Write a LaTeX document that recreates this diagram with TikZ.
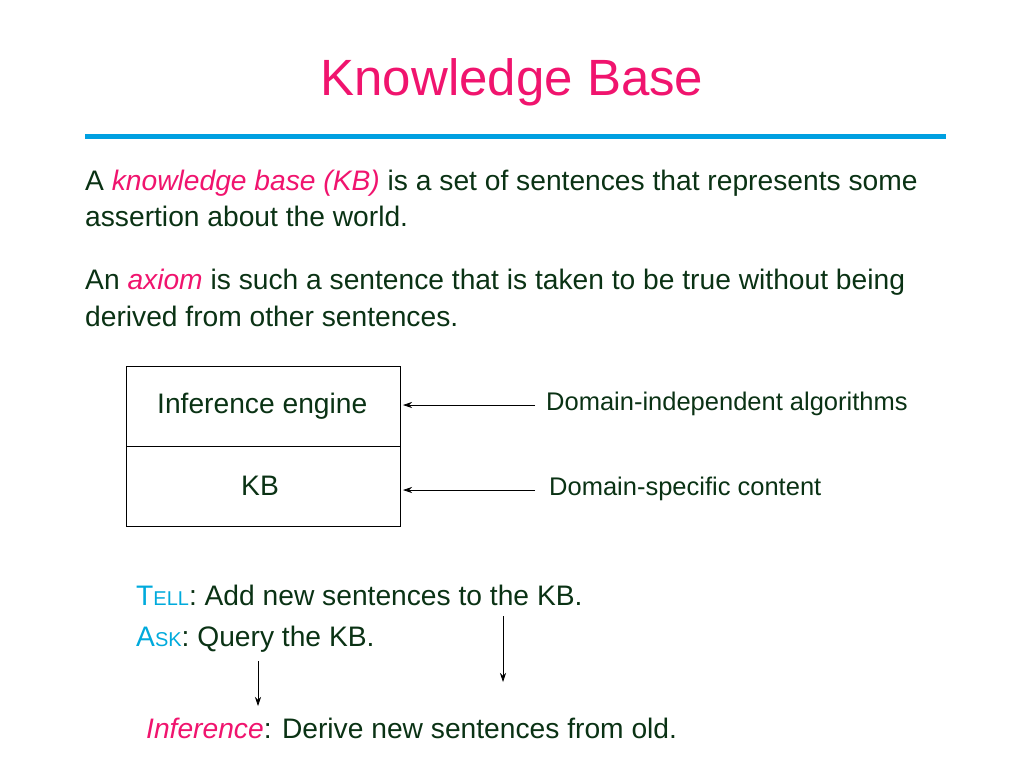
\documentclass[tikz,border=0pt]{standalone}
\usepackage{fontspec}
\setmainfont{Liberation Sans}
\usetikzlibrary{arrows.meta}
\definecolor{tpink}{RGB}{240,20,110}
\definecolor{tblue}{RGB}{0,160,225}
\definecolor{tgreen}{RGB}{10,50,20}
\definecolor{tcyan}{RGB}{0,170,220}
\begin{document}
\begin{tikzpicture}[x=1pt,y=-1pt,
  txt/.style={anchor=west,inner sep=0pt,text=tgreen,font=\fontsize{28.2}{32}\selectfont},
  lab/.style={anchor=west,inner sep=0pt,text=tgreen,font=\fontsize{25.5}{29}\selectfont},
  arr/.style={-{Stealth[length=9pt,width=6pt]},line width=0.7pt}]
\useasboundingbox (0,0) rectangle (1024,768);
\node[inner sep=0pt,text=tpink,font=\fontsize{51}{58}\selectfont] (title) at (512,82) {Knowledge Base};
\draw[tblue,line width=5pt] (85,136) -- (946,136);
\node[txt] (p1) at (85,183) {A \textcolor{tpink}{\itshape knowledge base (KB)} is a set of sentences that represents some};
\node[txt] (p2) at (85,216) {assertion about the world.};
\node[txt] (p3) at (85,282) {An \textcolor{tpink}{\itshape axiom} is such a sentence that is taken to be true without being};
\node[txt] (p4) at (85,316) {derived from other sentences.};
\draw[line width=0.8pt] (126,366) rectangle (400,526);
\draw[line width=0.8pt] (126,446) -- (400,446);
\node[txt] (ie) at (157,406) {Inference engine};
\node[txt] (kb) at (241,486) {KB};
\coordinate (ieR) at (403,405);
\coordinate (kbR) at (403,490);
\node[lab] (di) at (546,404) {Domain-independent algorithms};
\node[lab] (ds) at (549,489) {Domain-specific content};
\draw[arr] (535,405) -- (ieR);
\draw[arr] (535,490) -- (kbR);
\node[txt] (tell) at (136,595) {\textcolor{tcyan}{T{\fontsize{20}{22}\selectfont ELL}}: Add new sentences to the KB.};
\node[txt] (ask) at (136,639) {\textcolor{tcyan}{A{\fontsize{20}{22}\selectfont SK}}: Query the KB.};
\node[txt] (inf) at (146,728) {\textcolor{tpink}{\itshape Inference}: Derive new sentences from old.};
\coordinate (a1) at (503,616); \coordinate (a1e) at (503,682);
\coordinate (a2) at (258,661); \coordinate (a2e) at (258,706);
\draw[arr] (a1) -- (a1e);
\draw[arr] (a2) -- (a2e);
\end{tikzpicture}
\end{document}
